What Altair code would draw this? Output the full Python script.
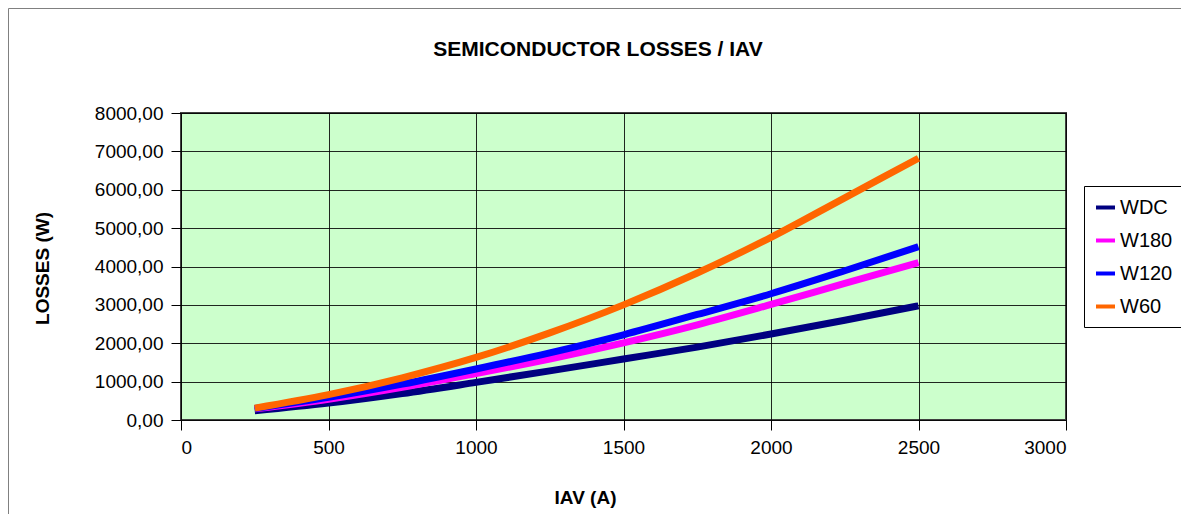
import altair as alt
import pandas as pd

iav = [250, 500, 750, 1000, 1250, 1500, 1750, 2000, 2250, 2500]
wdc = [240, 440, 690, 980, 1280, 1590, 1900, 2240, 2600, 2975]
w180 = [290, 540, 850, 1210, 1590, 2010, 2480, 3010, 3560, 4100]
w120 = [300, 590, 935, 1330, 1750, 2220, 2750, 3290, 3890, 4515]
w60 = [310, 660, 1100, 1630, 2270, 3000, 3830, 4760, 5790, 6820]

series_names = ["WDC", "W180", "W120", "W60"]
series_colors = ["#000080", "#FF00FF", "#0000FF", "#FF6600"]
chart_title = "SEMICONDUCTOR LOSSES / IAV"

rows = []
for k, (name, vals) in enumerate(zip(series_names, [wdc, w180, w120, w60])):
    for i, v in zip(iav, vals):
        rows.append({"IAV": i, "Losses": v, "Series": name, "k": k})
df = pd.DataFrame(rows)

W, H = 885, 307
FONT = "Liberation Sans"

lines = alt.Chart(df).mark_line(strokeWidth=7, strokeCap="butt", interpolate="monotone").encode(
    x=alt.X("IAV:Q", scale=alt.Scale(domain=[0, 3000], nice=False),
            axis=alt.Axis(values=[0, 500, 1000, 1500, 2000, 2500, 3000], title="IAV (A)", format="d",
                          grid=True, gridColor="#000000", gridOpacity=0.85, gridWidth=1,
                          domain=False, tickColor="#000000", tickSize=10, tickWidth=1,
                          labelFont=FONT, labelFontSize=19, labelColor="#000000",
                          labelPadding=8,
                          titleFont=FONT, titleFontSize=19, titleFontWeight="bold",
                          titleColor="#000000", titleX=404, titleY=77, titleBaseline="middle",
                          titleAnchor="start", titleAlign="center")),
    y=alt.Y("Losses:Q", scale=alt.Scale(domain=[0, 8000], nice=False),
            axis=alt.Axis(values=[0, 1000, 2000, 3000, 4000, 5000, 6000, 7000, 8000],
                          title="LOSSES (W)",
                          labelExpr="replace(format(datum.value, '.2f'), '.', ',')",
                          grid=True, gridColor="#000000", gridOpacity=0.85, gridWidth=1,
                          domain=False, tickColor="#000000", tickSize=10, tickWidth=1,
                          labelFont=FONT, labelFontSize=19, labelColor="#000000",
                          labelPadding=8,
                          titleFont=FONT, titleFontSize=19, titleFontWeight="bold",
                          titleColor="#000000", titleX=-139, titleY=155, titleAngle=-90,
                          titleBaseline="middle", titleAlign="center")),
    color=alt.Color("Series:N", scale=alt.Scale(domain=series_names, range=series_colors),
                    sort=series_names,
                    legend=alt.Legend(title=None, orient="none", legendX=903, legendY=73,
                                      symbolType="stroke", symbolStrokeWidth=4, symbolSize=361,
                                      labelFont=FONT, labelFontSize=20,
                                      labelColor="#000000", labelOffset=3,
                                      rowPadding=11, padding=10,
                                      strokeColor="#000000", fillColor="#FFFFFF")),
    order=alt.Order("k:Q"),
    detail="Series:N",
)

one = pd.DataFrame({"t": [chart_title]})
outer_top = alt.Chart(one).mark_rule(color="#808080", strokeWidth=1).encode(
    x=alt.value(-172.5), x2=alt.value(1000), y=alt.value(-104.5))
outer_left = alt.Chart(one).mark_rule(color="#808080", strokeWidth=1).encode(
    x=alt.value(-172.5), y=alt.value(-104.5), y2=alt.value(405))
title_text = alt.Chart(one).mark_text(font=FONT, fontSize=21, fontWeight="bold", color="#000000",
                                      align="center", baseline="middle").encode(
    text="t:N", x=alt.value(417), y=alt.value(-63))

chart = alt.layer(outer_top, outer_left, title_text, lines).properties(
    width=W, height=H,
    autosize=alt.AutoSizeParams(type="none"),
    padding={"left": 173, "top": 105, "right": 115, "bottom": 94},
    background="#FFFFFF",
).configure_view(fill="#CCFFCC", stroke="#404040", strokeWidth=2)

chart.save("out.html", embed_options={"renderer": "svg", "actions": False})
